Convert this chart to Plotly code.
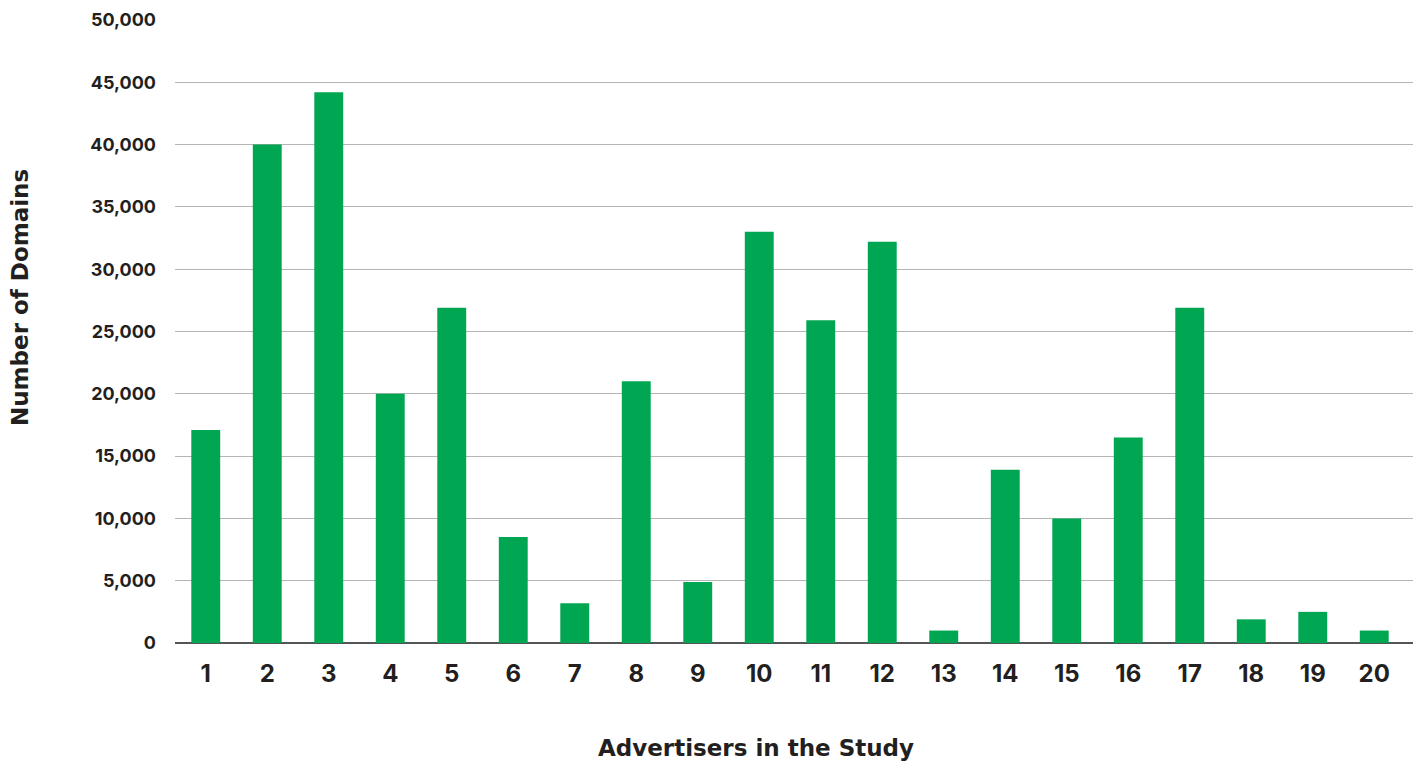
import plotly.graph_objects as go

advertisers = list(range(1, 21))
domains = [17100, 40000, 44200, 20000, 26900, 8500, 3200, 21000, 4900, 33000,
           25900, 32200, 1000, 13900, 10000, 16500, 26900, 1900, 2500, 1000]
y_ticks = list(range(0, 50001, 5000))
y_labels = [f"{v:,}" for v in y_ticks]

fig = go.Figure(go.Bar(x=advertisers, y=domains, marker_color="#00a651",
                       width=0.47, marker_line_width=0))

title_font = dict(size=23, family="DejaVu Sans", weight=700, color="#231f20")

fig.update_layout(
    width=1422, height=763,
    margin=dict(l=175, r=9, t=20, b=120),
    plot_bgcolor="white", paper_bgcolor="white",
    showlegend=False,
    font=dict(family="Inter, Open Sans, sans-serif", color="#231f20"),
    xaxis=dict(
        range=[0.5, 20.63], tickmode="array", tickvals=advertisers,
        ticktext=[str(a) for a in advertisers], showgrid=False,
        tickfont=dict(size=24, family="Inter", weight=700), ticks="",
        ticklabelstandoff=14,
        showline=False, zeroline=False,
    ),
    yaxis=dict(
        range=[0, 50000], tickmode="array", tickvals=y_ticks, ticktext=y_labels,
        showgrid=True, gridcolor="#b5b5b5", gridwidth=1,
        zeroline=True, zerolinecolor="#555555", zerolinewidth=2,
        tickfont=dict(size=18, family="Inter", weight=700), ticks="",
        ticklabelstandoff=18,
    ),
    annotations=[
        dict(text="Advertisers in the Study", xref="paper", yref="paper",
             x=(756 - 175) / 1238, y=-(748 - 643) / 623, xanchor="center",
             yanchor="middle", showarrow=False, font=title_font),
        dict(text="Number of Domains", xref="paper", yref="paper",
             x=-(175 - 20) / 1238, y=(643 - 298) / 623, xanchor="center",
             yanchor="middle", textangle=-90, showarrow=False, font=title_font),
    ],
)

fig.write_html("out.html")
